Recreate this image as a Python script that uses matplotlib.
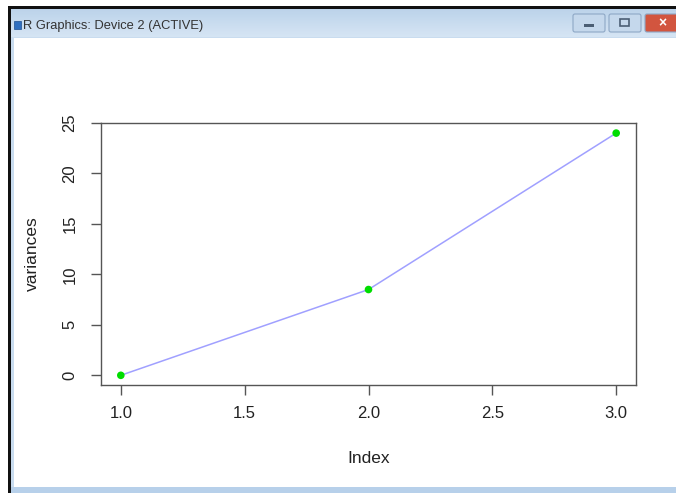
import numpy as np
import matplotlib.pyplot as plt
from matplotlib.patches import Rectangle, FancyBboxPatch

plt.rcParams['font.family'] = ['Liberation Sans', 'DejaVu Sans']

# data
index = [1, 2, 3]
variances = [0.0, 8.5, 24.0]
xticks = [1.0, 1.5, 2.0, 2.5, 3.0]
yticks = [0, 5, 10, 15, 20, 25]

W, H = 676, 493
fig = plt.figure(figsize=(W / 100, H / 100), dpi=100)
fig.patch.set_facecolor('white')

# window chrome, drawn in pixel coords
chrome = fig.add_axes([0, 0, 1, 1])
chrome.set_xlim(0, W)
chrome.set_ylim(H, 0)
chrome.axis('off')
# black outer edge
chrome.add_patch(Rectangle((8, 6), W, H, facecolor='#111111', edgecolor='none'))
# light blue frame
chrome.add_patch(Rectangle((11, 9), W, H, facecolor='#c9dcef', edgecolor='none'))
# title bar gradient
grad = np.linspace(0, 1, 50).reshape(-1, 1)
tb_cmap = plt.matplotlib.colors.LinearSegmentedColormap.from_list('tb', ['#bcd3ea', '#d6e5f4'])
chrome.imshow(grad, extent=(11, W, 37, 9), aspect='auto', cmap=tb_cmap, zorder=1)
# client area
chrome.add_patch(Rectangle((14, 38), W, 449, facecolor='white', edgecolor='none', zorder=2))
chrome.add_patch(Rectangle((11, 487), W, 6, facecolor='#b7d0ea', edgecolor='none', zorder=2))
# icon + title
chrome.add_patch(Rectangle((14, 21), 7, 8, facecolor='#2f6fc0', edgecolor='#1d4f91', lw=0.5, zorder=3))
chrome.text(23, 25.5, 'R Graphics: Device 2 (ACTIVE)', fontsize=9.3, color='#333333',
            va='center', ha='left', zorder=3)
# buttons
for x0, x1, fc in [(573, 605, '#c5d8ec'), (609, 641, '#c5d8ec'), (645, 690, '#d2553f')]:
    chrome.add_patch(FancyBboxPatch((x0, 14), x1 - x0, 18, boxstyle='round,pad=0,rounding_size=2',
                                    facecolor=fc, edgecolor='#8ea8c6', lw=0.8, zorder=3))
chrome.add_patch(Rectangle((584, 24), 10, 3, facecolor='#4b5e74', edgecolor='none', zorder=4))
chrome.add_patch(Rectangle((620, 19), 9, 7, facecolor='none', edgecolor='#4b5e74', lw=1.2, zorder=4))
chrome.text(662, 23, '×', fontsize=10, color='white', fontweight='bold', ha='center', va='center', zorder=4)

# plot region
L, R, T, B = 101, 636, 123, 385
ax = fig.add_axes([L / W, (H - B) / H, (R - L) / W, (B - T) / H])
ax.set_zorder(5)
ax.plot(index, variances, color='#a0a0ff', lw=1.1, zorder=2)
ax.scatter(index, variances, color='#00dd00', s=30, zorder=3, edgecolors='none')

ax.set_xlim(1 - 0.08, 3 + 0.08)
ax.set_ylim(-0.96, 24.96)
ax.set_xticks(xticks)
ax.set_xticklabels([f'{v:.1f}' for v in xticks])
ax.set_yticks(yticks)
ax.set_yticklabels([str(v) for v in yticks], rotation=90, va='center')

for s in ax.spines.values():
    s.set_color('#555555')
    s.set_linewidth(1.0)
ax.tick_params(direction='out', length=7, width=1, color='#555555', labelsize=12, labelcolor='#222222')
ax.tick_params(axis='y', pad=10)
ax.tick_params(axis='x', pad=8)

ax.set_xlabel('Index', fontsize=12.5, color='#222222', labelpad=22)
ax.set_ylabel('variances', fontsize=12.5, color='#222222', labelpad=16)

fig.savefig('out.png', dpi=100)
